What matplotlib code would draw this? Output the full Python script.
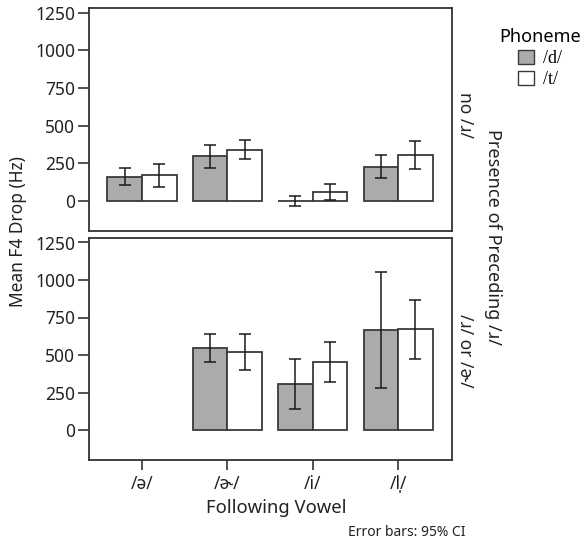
import numpy as np
import matplotlib
matplotlib.use("Agg")
import matplotlib.pyplot as plt
from matplotlib.patches import Patch

plt.rcParams['font.family'] = ['Noto Sans', 'DejaVu Sans']

vowels = ['/ə/', '/ɚ/', '/i/', '/l̩/']
phonemes = ['/d/', '/t/']
panels = ['no /ɹ/', '/ɹ/ or /ɚ/']

# panel 1: no /ɹ/
top_d = [160, 296, 0, 227]
top_d_lo = [105, 216, -33, 149]
top_d_hi = [216, 372, 33, 305]
top_t = [171, 340, 60, 305]
top_t_lo = [93, 276, 9, 214]
top_t_hi = [245, 403, 109, 394]

# panel 2: /ɹ/ or /ɚ/  (no data for /ə/)
bot_d = [np.nan, 547, 304, 670]
bot_d_lo = [np.nan, 452, 141, 278]
bot_d_hi = [np.nan, 642, 472, 1052]
bot_t = [np.nan, 518, 452, 672]
bot_t_lo = [np.nan, 399, 320, 474]
bot_t_hi = [np.nan, 640, 589, 866]

yticks = [0, 250, 500, 750, 1000, 1250]

W, H = 586, 544
fig = plt.figure(figsize=(W / 100, H / 100), dpi=100)

def fx(px):
    return px / W

def fy(py):
    return 1 - py / H

ax_top = fig.add_axes([fx(89), fy(231), fx(452) - fx(89), fy(8) - fy(231)])
ax_bot = fig.add_axes([fx(89), fy(460), fx(452) - fx(89), fy(238) - fy(460)])

gray = '#ABABAD'
edge = '#3a3a3a'
bw = 0.405

def draw(ax, d, dlo, dhi, t, tlo, thi):
    x = np.arange(len(vowels))
    for vals, lo, hi, off, col in [(d, dlo, dhi, -bw / 2, gray), (t, tlo, thi, bw / 2, 'white')]:
        vals = np.asarray(vals, float); lo = np.asarray(lo, float); hi = np.asarray(hi, float)
        m = ~np.isnan(vals)
        ax.bar(x[m] + off, vals[m], width=bw, color=col, edgecolor=edge, linewidth=1.3, zorder=2)
        ax.errorbar(x[m] + off, vals[m], yerr=[vals[m] - lo[m], hi[m] - vals[m]], fmt='none',
                    ecolor='#1a1a1a', elinewidth=1.1, capsize=4.5, capthick=1.1, zorder=3)
    ax.set_xlim(-0.62, 3.63)
    ax.set_ylim(-200, 1280)
    ax.set_yticks(yticks)
    ax.set_yticklabels([str(v) for v in yticks], fontsize=12.5, color='#222222')
    ax.tick_params(axis='y', length=8, width=1.2, color='#333333', pad=2)
    for s in ax.spines.values():
        s.set_linewidth(1.3)
        s.set_color('#333333')

draw(ax_top, top_d, top_d_lo, top_d_hi, top_t, top_t_lo, top_t_hi)
draw(ax_bot, bot_d, bot_d_lo, bot_d_hi, bot_t, bot_t_lo, bot_t_hi)

ax_top.set_xticks([])
ax_bot.set_xticks(np.arange(len(vowels)))
ax_bot.set_xticklabels(vowels, fontsize=12.5, color='#222222')
ax_bot.tick_params(axis='x', length=7, width=1.2, color='#333333', pad=4)

ax_top.text(1.01, 0.52, panels[0], transform=ax_top.transAxes, rotation=270,
            ha='left', va='center', fontsize=12.5, color='#222222')
ax_bot.text(1.01, 0.49, panels[1], transform=ax_bot.transAxes, rotation=270,
            ha='left', va='center', fontsize=12.5, color='#222222')

fig.text(fx(493), fy(237), 'Presence of Preceding /ɹ/', rotation=270, ha='center', va='center',
         fontsize=13, color='#222222')
fig.text(fx(18), fy(232), 'Mean F4 Drop (Hz)', rotation=90, ha='center', va='center',
         fontsize=12.5, color='#222222')
fig.text(fx(276), fy(508), 'Following Vowel', ha='center', va='center',
         fontsize=13.3, color='#222222')
fig.text(fx(466), fy(533), 'Error bars: 95% CI', ha='right', va='center',
         fontsize=10, color='#222222')

handles = [Patch(facecolor=gray, edgecolor=edge, linewidth=1.0),
           Patch(facecolor='white', edgecolor=edge, linewidth=1.0)]
leg = fig.legend(handles, phonemes, loc='upper left', bbox_to_anchor=(fx(499), fy(28)),
                 frameon=False, title='Phoneme', title_fontsize=13,
                 prop={'family': 'Liberation Serif', 'size': 13},
                 handlelength=0.85, handleheight=0.85, handletextpad=0.5,
                 labelspacing=0.2, borderpad=0, borderaxespad=0)
leg._legend_box.align = 'center'

fig.savefig('out.png', dpi=100)
